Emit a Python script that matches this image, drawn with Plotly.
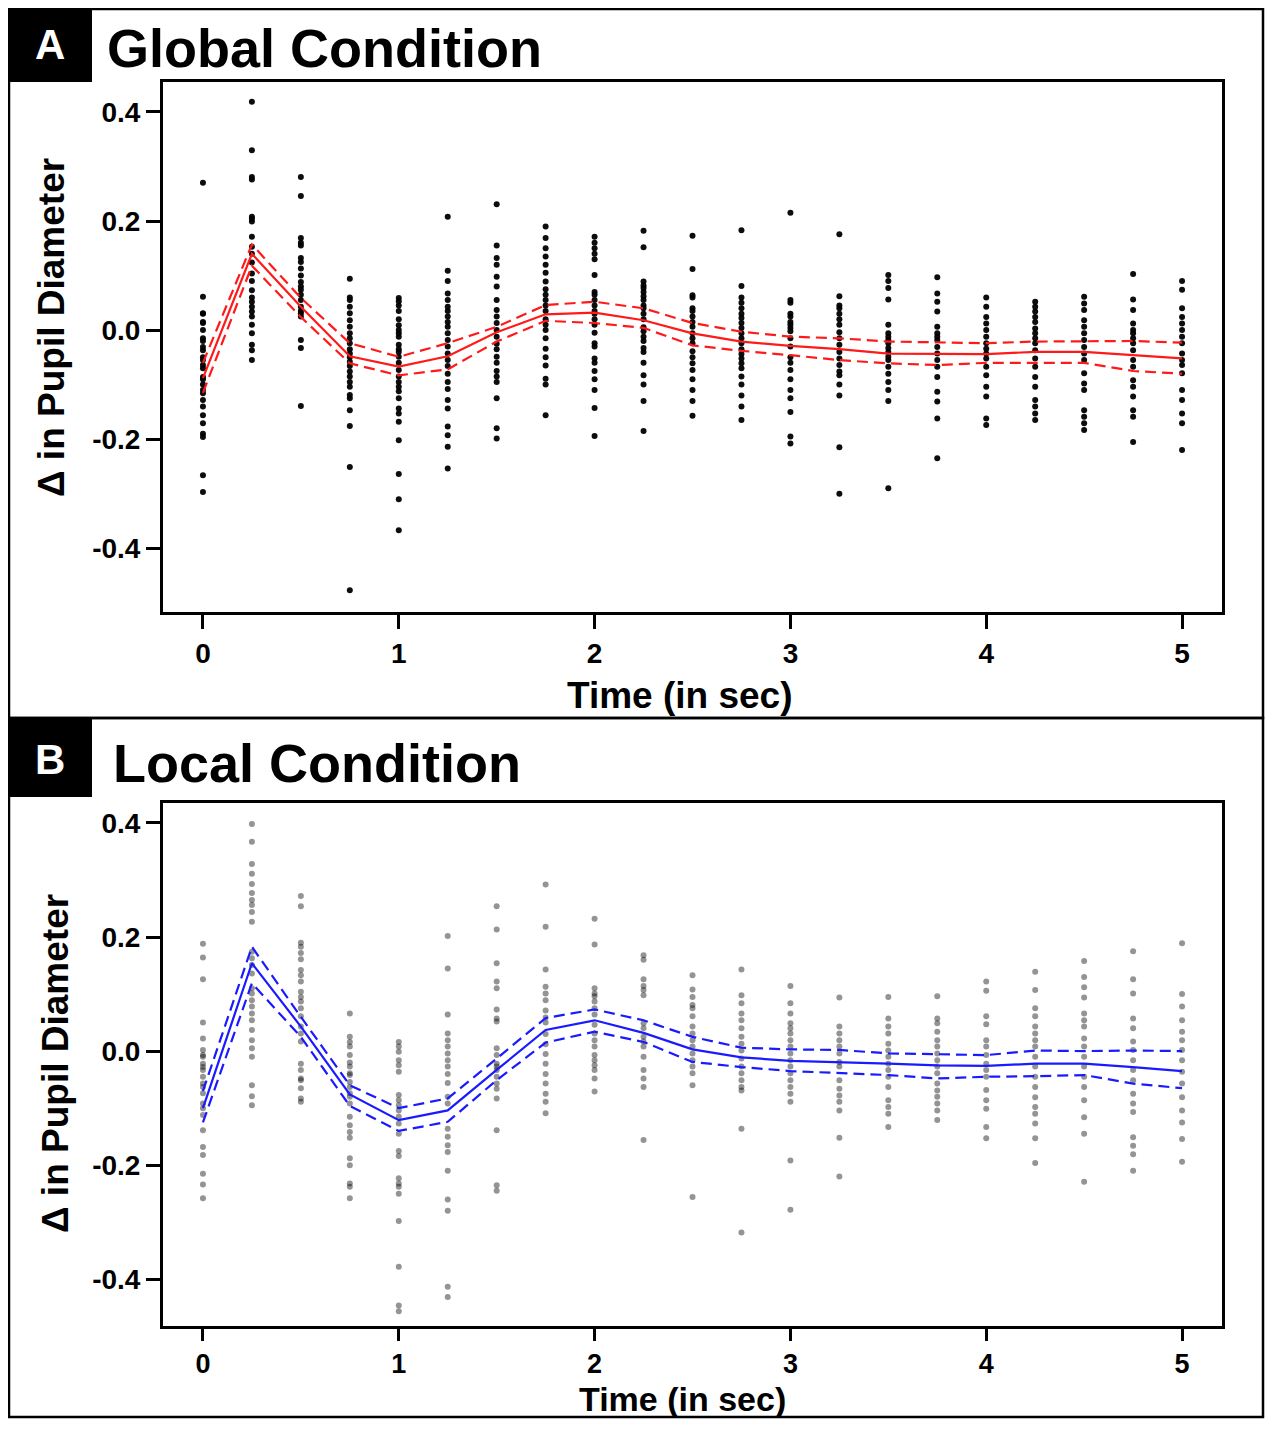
import plotly.graph_objects as go

REF_W, REF_H = 1273, 1429
OFF = 8  # the page body margin shifts the figure by 8 px
W, H = REF_W - 2 * OFF, REF_H - 2 * OFF - 2  # keep the whole figure inside the visible page

time = [0, 0.25, 0.5, 0.75, 1, 1.25, 1.5, 1.75, 2, 2.25, 2.5, 2.75, 3, 3.25, 3.5, 3.75, 4, 4.25, 4.5, 4.75, 5]
x_ticks = [0, 1, 2, 3, 4, 5]
y_ticks = [-0.4, -0.2, 0.0, 0.2, 0.4]
y_tick_labels = ["-0.4", "-0.2", "0.0", "0.2", "0.4"]

# Panel A: Global condition
global_mean = [-0.088, 0.14, 0.043, -0.048, -0.067, -0.048, -0.004, 0.029, 0.032, 0.018, -0.006,
               -0.021, -0.029, -0.035, -0.043, -0.044, -0.044, -0.040, -0.040, -0.046, -0.052]
global_upper = [-0.06, 0.157, 0.059, -0.024, -0.049, -0.024, 0.006, 0.046, 0.052, 0.04, 0.013,
                -0.003, -0.012, -0.015, -0.021, -0.023, -0.024, -0.021, -0.020, -0.020, -0.023]
global_lower = [-0.115, 0.118, 0.024, -0.061, -0.083, -0.072, -0.021, 0.017, 0.013, 0.004, -0.028,
                -0.038, -0.046, -0.055, -0.061, -0.064, -0.060, -0.060, -0.060, -0.075, -0.080]
global_dots = [
    [0.27, 0.061, 0.031, 0.03, 0.015, 0.013, 0.0, -0.015, -0.02, -0.031, -0.037, -0.05, -0.055, -0.064, -0.07,
     -0.086, -0.09, -0.1, -0.11, -0.116, -0.128, -0.14, -0.156, -0.171, -0.19, -0.196, -0.266, -0.297],
    [0.419, 0.33, 0.281, 0.276, 0.208, 0.204, 0.199, 0.171, 0.153, 0.14, 0.124, 0.104, 0.09, 0.073, 0.06,
     0.052, 0.043, 0.034, 0.025, 0.01, -0.006, -0.027, -0.037, -0.055],
    [0.281, 0.246, 0.169, 0.16, 0.155, 0.132, 0.125, 0.113, 0.1, 0.088, 0.08, 0.074, 0.065, 0.055, 0.043,
     0.035, 0.031, 0.025, -0.018, -0.033, -0.139],
    [0.094, 0.06, 0.055, 0.043, 0.031, 0.018, 0.006, -0.006, -0.015, -0.024, -0.035, -0.043, -0.05, -0.058,
     -0.066, -0.076, -0.085, -0.095, -0.104, -0.119, -0.125, -0.147, -0.176, -0.251, -0.477],
    [0.059, 0.053, 0.045, 0.035, 0.02, 0.009, 0.0, -0.006, -0.012, -0.027, -0.035, -0.04, -0.049, -0.06, -0.073,
     -0.085, -0.095, -0.104, -0.112, -0.125, -0.144, -0.153, -0.168, -0.202, -0.264, -0.31, -0.367],
    [0.208, 0.109, 0.09, 0.067, 0.055, 0.043, 0.035, 0.025, 0.015, 0.006, -0.006, -0.018, -0.03, -0.043, -0.055,
     -0.066, -0.08, -0.095, -0.108, -0.128, -0.144, -0.177, -0.193, -0.214, -0.254],
    [0.231, 0.155, 0.132, 0.12, 0.098, 0.08, 0.055, 0.037, 0.025, 0.013, 0.0, -0.012, -0.025, -0.035, -0.049,
     -0.06, -0.075, -0.085, -0.095, -0.125, -0.18, -0.199],
    [0.19, 0.169, 0.15, 0.135, 0.12, 0.105, 0.089, 0.075, 0.065, 0.055, 0.045, 0.035, 0.02, 0.01, 0.0, -0.015,
     -0.034, -0.05, -0.065, -0.089, -0.1, -0.156],
    [0.171, 0.16, 0.15, 0.14, 0.13, 0.101, 0.07, 0.065, 0.055, 0.045, 0.035, 0.03, 0.02, 0.01, -0.005, -0.024,
     -0.03, -0.052, -0.06, -0.075, -0.09, -0.11, -0.143, -0.194],
    [0.182, 0.152, 0.089, 0.082, 0.077, 0.07, 0.062, 0.055, 0.045, 0.04, 0.03, 0.02, 0.005, -0.002, -0.012,
     -0.02, -0.033, -0.04, -0.06, -0.083, -0.1, -0.13, -0.185],
    [0.173, 0.112, 0.064, 0.06, 0.04, 0.035, 0.025, 0.015, 0.006, -0.006, -0.015, -0.024, -0.039, -0.05, -0.061,
     -0.073, -0.09, -0.11, -0.13, -0.157],
    [0.183, 0.081, 0.06, 0.05, 0.04, 0.03, 0.022, 0.013, 0.004, -0.006, -0.015, -0.024, -0.035, -0.044, -0.052,
     -0.061, -0.07, -0.085, -0.1, -0.12, -0.14, -0.165],
    [0.215, 0.055, 0.05, 0.03, 0.025, 0.015, 0.01, 0.004, -0.002, -0.015, -0.03, -0.05, -0.06, -0.073, -0.09,
     -0.11, -0.125, -0.15, -0.195, -0.208],
    [0.176, 0.062, 0.045, 0.04, 0.03, 0.02, 0.01, -0.004, -0.015, -0.027, -0.04, -0.052, -0.064, -0.076, -0.083,
     -0.1, -0.12, -0.215, -0.3],
    [0.101, 0.09, 0.077, 0.056, 0.01, -0.006, -0.012, -0.018, -0.024, -0.033, -0.04, -0.049, -0.055, -0.067,
     -0.08, -0.095, -0.11, -0.13, -0.29],
    [0.097, 0.067, 0.052, 0.034, 0.006, -0.006, -0.012, -0.018, -0.031, -0.043, -0.055, -0.067, -0.086, -0.113,
     -0.131, -0.162, -0.235],
    [0.06, 0.043, 0.024, 0.012, 0.0, -0.012, -0.024, -0.034, -0.043, -0.052, -0.067, -0.083, -0.104, -0.122,
     -0.162, -0.174],
    [0.052, 0.043, 0.034, 0.024, 0.015, 0.003, -0.006, -0.015, -0.024, -0.037, -0.052, -0.067, -0.086, -0.104,
     -0.128, -0.14, -0.153, -0.165],
    [0.061, 0.049, 0.037, 0.018, 0.006, -0.006, -0.018, -0.031, -0.043, -0.055, -0.079, -0.098, -0.11, -0.147,
     -0.159, -0.171, -0.183],
    [0.103, 0.056, 0.037, 0.012, 0.0, -0.006, -0.015, -0.024, -0.037, -0.055, -0.067, -0.092, -0.104, -0.122,
     -0.147, -0.159, -0.205],
    [0.09, 0.074, 0.04, 0.024, 0.012, 0.0, -0.012, -0.024, -0.043, -0.055, -0.064, -0.079, -0.11, -0.128, -0.153,
     -0.171, -0.22],
]

# Panel B: Local condition
local_mean = [-0.10, 0.154, 0.043, -0.076, -0.121, -0.104, -0.033, 0.037, 0.054, 0.032, 0.003,
              -0.011, -0.017, -0.019, -0.022, -0.025, -0.026, -0.022, -0.022, -0.028, -0.035]
local_upper = [-0.07, 0.183, 0.06, -0.06, -0.10, -0.083, -0.013, 0.058, 0.073, 0.054, 0.025,
               0.006, 0.003, 0.002, -0.004, -0.005, -0.007, 0.001, 0.0, 0.001, 0.0]
local_lower = [-0.125, 0.119, 0.025, -0.096, -0.14, -0.124, -0.051, 0.015, 0.034, 0.016, -0.019,
               -0.028, -0.035, -0.039, -0.042, -0.048, -0.045, -0.044, -0.042, -0.057, -0.065]
local_dots = [
    [0.188, 0.164, 0.126, 0.05, 0.022, 0.002, -0.007, -0.01, -0.022, -0.028, -0.033, -0.045, -0.057, -0.063,
     -0.074, -0.092, -0.1, -0.112, -0.139, -0.168, -0.182, -0.215, -0.234, -0.258],
    [0.398, 0.367, 0.328, 0.311, 0.293, 0.277, 0.265, 0.256, 0.244, 0.227, 0.174, 0.163, 0.151, 0.136, 0.11,
     0.101, 0.089, 0.078, 0.066, 0.054, 0.037, 0.019, 0.005, -0.01, -0.06, -0.079, -0.095],
    [0.272, 0.254, 0.19, 0.183, 0.172, 0.161, 0.142, 0.133, 0.122, 0.104, 0.095, 0.087, 0.075, 0.061, 0.043,
     0.031, 0.017, -0.022, -0.033, -0.048, -0.051, -0.065, -0.083, -0.089],
    [0.066, 0.025, 0.016, 0.008, -0.007, -0.02, -0.027, -0.039, -0.042, -0.054, -0.063, -0.074, -0.08, -0.092,
     -0.115, -0.13, -0.142, -0.152, -0.188, -0.2, -0.232, -0.238, -0.258],
    [0.016, 0.008, -0.001, -0.016, -0.025, -0.036, -0.077, -0.086, -0.095, -0.104, -0.115, -0.127, -0.145,
     -0.175, -0.184, -0.223, -0.232, -0.238, -0.25, -0.298, -0.378, -0.446, -0.456],
    [0.202, 0.145, 0.064, 0.031, 0.019, 0.008, -0.004, -0.016, -0.027, -0.04, -0.056, -0.08, -0.092, -0.136,
     -0.15, -0.165, -0.177, -0.21, -0.26, -0.28, -0.413, -0.431],
    [0.254, 0.213, 0.154, 0.122, 0.11, 0.073, 0.057, 0.052, 0.005, -0.007, -0.022, -0.027, -0.033, -0.045,
     -0.057, -0.066, -0.083, -0.139, -0.235, -0.245],
    [0.292, 0.218, 0.143, 0.113, 0.101, 0.089, 0.071, 0.059, 0.05, 0.03, 0.012, -0.005, -0.022, -0.04, -0.057,
     -0.075, -0.089, -0.109],
    [0.232, 0.187, 0.11, 0.101, 0.096, 0.087, 0.075, 0.064, 0.046, 0.031, 0.019, 0.008, -0.007, -0.016, -0.025,
     -0.033, -0.048, -0.071],
    [0.168, 0.16, 0.126, 0.114, 0.107, 0.098, 0.049, 0.04, 0.025, 0.017, 0.008, -0.01, -0.033, -0.048, -0.063,
     -0.156],
    [0.133, 0.108, 0.095, 0.081, 0.075, 0.061, 0.043, 0.031, 0.019, 0.008, -0.004, -0.016, -0.027, -0.039,
     -0.06, -0.256],
    [0.143, 0.098, 0.084, 0.066, 0.054, 0.04, 0.025, 0.013, 0.001, -0.013, -0.027, -0.039, -0.051, -0.063,
     -0.069, -0.136, -0.318],
    [0.114, 0.084, 0.066, 0.049, 0.04, 0.031, 0.019, 0.008, -0.004, -0.016, -0.027, -0.039, -0.051, -0.063,
     -0.075, -0.089, -0.192, -0.278],
    [0.094, 0.043, 0.031, 0.019, 0.008, -0.004, -0.019, -0.027, -0.051, -0.066, -0.078, -0.089, -0.104, -0.152,
     -0.22],
    [0.095, 0.057, 0.043, 0.031, 0.013, 0.001, -0.01, -0.022, -0.033, -0.045, -0.063, -0.086, -0.098, -0.11,
     -0.133],
    [0.096, 0.057, 0.049, 0.034, 0.019, 0.008, -0.004, -0.016, -0.027, -0.039, -0.057, -0.069, -0.08, -0.092,
     -0.104, -0.121],
    [0.122, 0.106, 0.061, 0.047, 0.019, 0.008, -0.007, -0.022, -0.033, -0.045, -0.068, -0.086, -0.101, -0.133,
     -0.153],
    [0.139, 0.107, 0.075, 0.061, 0.043, 0.031, 0.019, 0.008, -0.01, -0.027, -0.045, -0.063, -0.081, -0.098,
     -0.11, -0.127, -0.153, -0.196],
    [0.158, 0.13, 0.112, 0.094, 0.066, 0.054, 0.043, 0.022, 0.008, -0.01, -0.027, -0.045, -0.063, -0.086,
     -0.116, -0.145, -0.229],
    [0.175, 0.126, 0.101, 0.057, 0.04, 0.017, 0.002, -0.016, -0.033, -0.051, -0.075, -0.092, -0.107, -0.151,
     -0.166, -0.181, -0.21],
    [0.189, 0.1, 0.078, 0.054, 0.034, 0.019, 0.002, -0.016, -0.036, -0.057, -0.081, -0.104, -0.125, -0.154,
     -0.194],
]

FONT = "Arial, Liberation Sans, Helvetica, sans-serif"


def px_x(p):
    # reference pixel -> paper coordinate
    return (p - OFF) / W


def px_y(p):
    return 1 - (p - OFF) / H


fig = go.Figure()


def add_panel(dots, mean, upper, lower, color, dot_color, xa, ya):
    xs, ys = [], []
    for t, vals in zip(time, dots):
        xs.extend([t] * len(vals))
        ys.extend(vals)
    fig.add_trace(go.Scatter(x=xs, y=ys, mode="markers", xaxis=xa, yaxis=ya,
                             marker=dict(size=6, color=dot_color, line=dict(width=0)),
                             showlegend=False, hoverinfo="skip"))
    for series, dash in ((upper, "11px,6px"), (lower, "11px,6px"), (mean, "solid")):
        fig.add_trace(go.Scatter(x=time, y=series, mode="lines", xaxis=xa, yaxis=ya,
                                 line=dict(color=color, width=2.2, dash=dash),
                                 showlegend=False, hoverinfo="skip"))


add_panel(global_dots, global_mean, global_upper, global_lower, "#ff1a1a", "rgba(0,0,0,0.95)", "x", "y")
add_panel(local_dots, local_mean, local_upper, local_lower, "#1a1aff", "rgba(0,0,0,0.42)", "x2", "y2")


def axis_style(ticklen=14, size=28):
    return dict(
        showline=True, linecolor="black", linewidth=3, mirror=True,
        ticks="outside", ticklen=ticklen, tickwidth=3, tickcolor="black",
        showgrid=False, zeroline=False,
        tickfont=dict(family=FONT, size=size, color="black", weight="bold"),
    )


x_left, x_right = 163, 1222
A_top, A_bot = 82, 612
B_top, B_bot = 803, 1326

fig.update_layout(
    width=W, height=H,
    margin=dict(l=0, r=0, t=0, b=0),
    paper_bgcolor="white", plot_bgcolor="white",
    xaxis=dict(domain=[px_x(x_left), px_x(x_right)], range=[-0.204, 5.204], anchor="y",
               tickvals=x_ticks, **axis_style()),
    yaxis=dict(domain=[px_y(A_bot), px_y(A_top)], range=[-0.517, 0.455], anchor="x",
               tickvals=y_ticks, ticktext=y_tick_labels, **axis_style()),
    xaxis2=dict(domain=[px_x(x_left), px_x(x_right)], range=[-0.204, 5.204], anchor="y2",
                tickvals=x_ticks, **axis_style(ticklen=12, size=27)),
    yaxis2=dict(domain=[px_y(B_bot), px_y(B_top)], range=[-0.482, 0.435], anchor="x2",
                tickvals=y_ticks, ticktext=y_tick_labels, **axis_style()),
)

frame_bottom = OFF + H - 2
frame_right = OFF + W - 2
shapes = [
    dict(type="rect", xref="paper", yref="paper", x0=px_x(9), x1=px_x(frame_right), y0=px_y(718), y1=px_y(9),
         line=dict(color="black", width=2.5)),
    dict(type="rect", xref="paper", yref="paper", x0=px_x(9), x1=px_x(frame_right), y0=px_y(frame_bottom),
         y1=px_y(718), line=dict(color="black", width=2.5)),
    dict(type="rect", xref="paper", yref="paper", x0=px_x(8), x1=px_x(92), y0=px_y(82), y1=px_y(8),
         fillcolor="black", line=dict(width=0)),
    dict(type="rect", xref="paper", yref="paper", x0=px_x(8), x1=px_x(92), y0=px_y(797), y1=px_y(719),
         fillcolor="black", line=dict(width=0)),
]
fig.update_layout(shapes=shapes)


def ann(text, x, y, size, color="black", angle=0, xanchor="center"):
    fig.add_annotation(text=text, x=px_x(x), y=px_y(y), xref="paper", yref="paper",
                       showarrow=False, textangle=angle, xanchor=xanchor, yanchor="middle",
                       font=dict(family=FONT, size=size, color=color, weight="bold"))


ann("A", 50, 45, 42, color="white")
ann("B", 50, 759, 42, color="white")
ann("Global Condition", 105, 48, 54, xanchor="left")
ann("Local Condition", 111, 763, 54, xanchor="left")
ann("Time (in sec)", 680, 695, 37)
ann("Time (in sec)", 682, 1399, 34)
ann("Δ in Pupil Diameter", 52, 328, 37, angle=-90)
ann("Δ in Pupil Diameter", 55, 1064, 37, angle=-90)

fig.write_html("out.html")
